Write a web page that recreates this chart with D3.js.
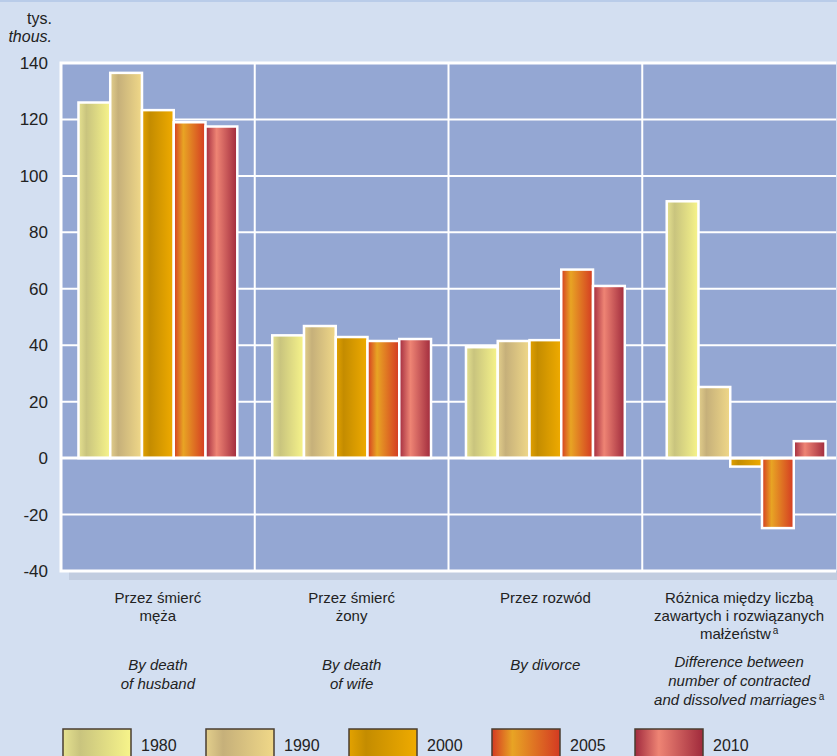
<!DOCTYPE html>
<html>
<head>
<meta charset="utf-8">
<script src="https://cdn.jsdelivr.net/npm/d3@7"></script>
<style>
  body { margin: 0; background: #d3dff1; }
  svg { display: block; }
  text { font-family: "Liberation Sans Narrow", "Arial Narrow", "Liberation Sans", sans-serif; fill: #222; }
</style>
</head>
<body>
<svg id="chart" width="837" height="756"></svg>
<script>
// data
var categories = ["meza", "zony", "rozwod", "roznica"];
var years = ["1980", "1990", "2000", "2005", "2010"];
var v1980 = [126, 43.5, 39.3, 91];
var v1990 = [136.5, 46.8, 41.5, 25.2];
var v2000 = [123.3, 42.9, 41.8, -3];
var v2005 = [119, 41.5, 66.8, -24.8];
var v2010 = [117.5, 42.2, 61, 6];
var yTicks = [-40, -20, 0, 20, 40, 60, 80, 100, 120, 140];
var labelsPl = [["Przez śmierć", "męża"], ["Przez śmierć", "żony"], ["Przez rozwód"],
                ["Różnica między liczbą", "zawartych i rozwiązanych", "małżeństw"]];
var labelsEn = [["By death", "of husband"], ["By death", "of wife"], ["By divorce"],
                ["Difference between", "number of contracted", "and dissolved marriages"]];

var series = [v1980, v1990, v2000, v2005, v2010];

// gradients: [offset, colour]
var grads = [
  [[0, "#e6e290"], [0.25, "#c9c47e"], [1, "#f7f48a"]],
  [[0, "#e3cf8c"], [0.25, "#c6b07a"], [1, "#f0d888"]],
  [[0, "#e3a200"], [0.25, "#c48c00"], [1, "#efab00"]],
  [[0, "#d43a22"], [0.3, "#e8a424"], [1, "#d43a22"]],
  [[0, "#a12a3e"], [0.35, "#ee8474"], [1, "#a02a3c"]]
];

var svg = d3.select("#chart");
var pLeft = 61, pRight = 836, pTop = 63, pBottom = 571;
// the last group sits a bit right of its band centre in the original
var groupShift = [0, 0, 0, 7];

var x = d3.scaleBand().domain(categories).range([pLeft, pRight]);
var xs = d3.scaleBand().domain(years).range([0, x.bandwidth()]).paddingOuter(0.55).paddingInner(0);
var y = d3.scaleLinear().domain([-40, 140]).range([pBottom, pTop]);

var defs = svg.append("defs");
grads.forEach(function (g, i) {
  var lg = defs.append("linearGradient").attr("id", "g" + i)
    .attr("x1", "0%").attr("x2", "100%").attr("y1", "0%").attr("y2", "0%");
  g.forEach(function (s) {
    lg.append("stop").attr("offset", s[0]).attr("stop-color", s[1]);
  });
});

// top line
svg.append("rect").attr("x", 0).attr("y", 0).attr("width", 837).attr("height", 2).attr("fill", "#b9cce9");

// shadow under plot
svg.append("rect").attr("x", pLeft + 8).attr("y", pBottom).attr("width", 837 - pLeft - 8).attr("height", 9)
  .attr("fill", "#c2cde0");

// plot area
svg.append("rect").attr("x", pLeft).attr("y", pTop).attr("width", pRight - pLeft).attr("height", pBottom - pTop)
  .attr("fill", "#94a7d3");

// gridlines
svg.append("g").selectAll("line").data(yTicks).enter().append("line")
  .attr("x1", pLeft).attr("x2", pRight)
  .attr("y1", function (d) { return y(d); }).attr("y2", function (d) { return y(d); })
  .attr("stroke", "#fff").attr("stroke-width", 2);

// category separators
svg.append("g").selectAll("line").data(categories.slice(1)).enter().append("line")
  .attr("x1", function (d) { return x(d); }).attr("x2", function (d) { return x(d); })
  .attr("y1", pTop).attr("y2", pBottom)
  .attr("stroke", "#fff").attr("stroke-width", 2);

// plot frame left/top/bottom
svg.append("path")
  .attr("d", "M" + pRight + "," + pTop + "H" + pLeft + "V" + pBottom + "H" + pRight)
  .attr("fill", "none").attr("stroke", "#fff").attr("stroke-width", 3);

// bars
series.forEach(function (vals, i) {
  svg.append("g").selectAll("rect").data(vals).enter().append("rect")
    .attr("x", function (d, j) { return x(categories[j]) + xs(years[i]) + groupShift[j]; })
    .attr("width", xs.bandwidth())
    .attr("y", function (d) { return y(Math.max(0, d)); })
    .attr("height", function (d) { return Math.abs(y(d) - y(0)); })
    .attr("fill", "url(#g" + i + ")")
    .attr("stroke", "#fff").attr("stroke-width", 2.5);
});

// zero line
svg.append("line").attr("x1", pLeft).attr("x2", pRight).attr("y1", y(0)).attr("y2", y(0))
  .attr("stroke", "#fff").attr("stroke-width", 3);

// y tick labels
svg.append("g").selectAll("text").data(yTicks).enter().append("text")
  .attr("x", 48).attr("y", function (d) { return y(d) + 6; })
  .attr("text-anchor", "end").attr("font-size", 17)
  .text(function (d) { return d; });

svg.append("text").attr("x", 52).attr("y", 24).attr("text-anchor", "end").attr("font-size", 16).text("tys.");
svg.append("text").attr("x", 52).attr("y", 42).attr("text-anchor", "end").attr("font-size", 16)
  .attr("font-style", "italic").text("thous.");

// category labels
categories.forEach(function (c, i) {
  var cx = x(c) + x.bandwidth() / 2;
  var t = svg.append("text").attr("text-anchor", "middle").attr("font-size", 15);
  labelsPl[i].forEach(function (l, k) {
    t.append("tspan").attr("x", cx).attr("y", 603 + k * 18).text(l);
    if (i === 3 && k === 2) {
      t.append("tspan").attr("dx", 2).attr("dy", -5).attr("font-size", 10).text("a");
    }
  });
  var ey = i === 3 ? 667 : 670;
  var e = svg.append("text").attr("text-anchor", "middle").attr("font-size", 15).attr("font-style", "italic");
  labelsEn[i].forEach(function (l, k) {
    e.append("tspan").attr("x", cx).attr("y", ey + k * 19).text(l);
  });
  if (i === 3) {
    e.append("tspan").attr("dx", 2).attr("dy", -5).attr("font-size", 10).attr("font-style", "normal").text("a");
  }
});

// legend
var lx = d3.scaleBand().domain(years).range([63, 63 + 5 * 143]);
var lg = svg.append("g").selectAll("g").data(years).enter().append("g")
  .attr("transform", function (d) { return "translate(" + lx(d) + ",729)"; });
lg.append("rect").attr("width", 68).attr("height", 34)
  .attr("fill", function (d, i) { return "url(#g" + i + ")"; })
  .attr("stroke", "#4a3e30").attr("stroke-width", 1.5);
lg.append("text").attr("x", 78).attr("y", 22).attr("font-size", 16).text(function (d) { return d; });
</script>
</body>
</html>
